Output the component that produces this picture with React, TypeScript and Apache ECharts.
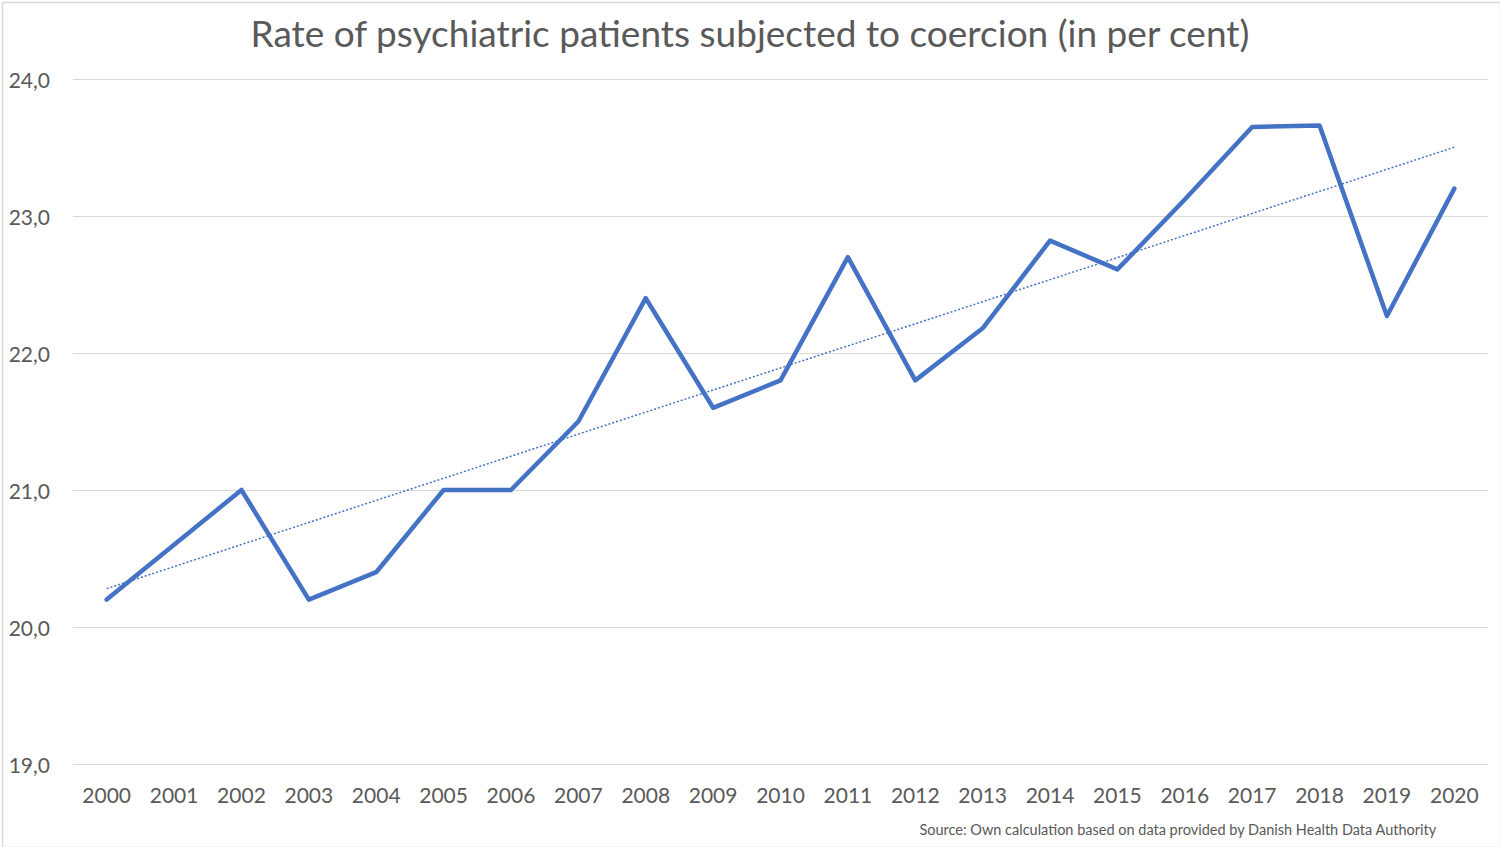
import React, { useEffect, useRef } from "react";
import * as echarts from "echarts";

const years = [
  "2000", "2001", "2002", "2003", "2004", "2005", "2006", "2007", "2008", "2009", "2010",
  "2011", "2012", "2013", "2014", "2015", "2016", "2017", "2018", "2019", "2020",
];

const coercionRate = [
  20.2, 20.6, 21.0, 20.2, 20.4, 21.0, 21.0, 21.5, 22.4, 21.6, 21.8,
  22.7, 21.8, 22.18, 22.82, 22.61, 23.12, 23.65, 23.66, 22.27, 23.2,
];

const yMin = 19;
const yMax = 24;
const yStep = 1;

const titleText = "Rate of psychiatric patients subjected to coercion (in per cent)";
const sourceText = "Source: Own calculation based on data provided by Danish Health Data Authority";

// Linear least-squares trend over the year index, as a spreadsheet trendline would draw it.
function linearTrend(values: number[]): number[] {
  const n = values.length;
  let sx = 0, sy = 0, sxx = 0, sxy = 0;
  values.forEach((v, i) => {
    sx += i; sy += v; sxx += i * i; sxy += i * v;
  });
  const slope = (n * sxy - sx * sy) / (n * sxx - sx * sx);
  const intercept = (sy - slope * sx) / n;
  return values.map((_, i) => +(intercept + slope * i).toFixed(4));
}

const FONT = "Lato, 'Open Sans', sans-serif";
const TEXT = "#595959";
const BLUE = "#4472C4";

export default function App() {
  const ref = useRef<HTMLDivElement>(null);

  useEffect(() => {
    if (!ref.current) return;
    const chart = echarts.init(ref.current, undefined, { renderer: "svg" });
    chart.setOption({
      animation: false,
      backgroundColor: "#ffffff",
      textStyle: { fontFamily: FONT },
      title: {
        text: titleText,
        left: "center",
        top: 9,
        textStyle: { fontFamily: FONT, fontSize: 37, fontWeight: "normal", color: TEXT },
      },
      graphic: [
        {
          type: "rect",
          left: 0,
          top: 0,
          shape: { width: 1498, height: 845 },
          style: { fill: "none", stroke: "#d9d9d9", lineWidth: 1.5 },
          silent: true,
        },
        {
          type: "text",
          right: 63,
          top: 822,
          style: { text: sourceText, font: `14.5px ${FONT}`, fill: TEXT },
        },
      ],
      grid: { left: 73, right: 12, top: 79, bottom: 83, containLabel: false },
      xAxis: {
        type: "category",
        data: years,
        boundaryGap: true,
        axisLine: { show: false },
        axisTick: { show: false },
        axisLabel: { color: TEXT, fontSize: 21, fontFamily: FONT, margin: 20 },
        splitLine: { show: false },
      },
      yAxis: {
        type: "value",
        min: yMin,
        max: yMax,
        interval: yStep,
        axisLine: { show: false },
        axisTick: { show: false },
        axisLabel: {
          color: TEXT,
          fontSize: 21,
          fontFamily: FONT,
          margin: 23,
          formatter: (v: number) => v.toFixed(1).replace(".", ","),
        },
        splitLine: { lineStyle: { color: "#d9d9d9", width: 1 } },
      },
      series: [
        {
          name: "Trend",
          type: "line",
          data: linearTrend(coercionRate),
          showSymbol: false,
          z: 2,
          lineStyle: { color: BLUE, width: 1.5, type: [2, 2] },
        },
        {
          name: "Coercion rate",
          type: "line",
          data: coercionRate,
          showSymbol: false,
          z: 3,
          lineStyle: { color: BLUE, width: 4.5, cap: "round", join: "round" },
        },
      ],
    });
    return () => chart.dispose();
  }, []);

  return (
    <div
      ref={ref}
      style={{ position: "absolute", left: 0, top: 0, width: 1500, height: 847 }}
    />
  );
}
